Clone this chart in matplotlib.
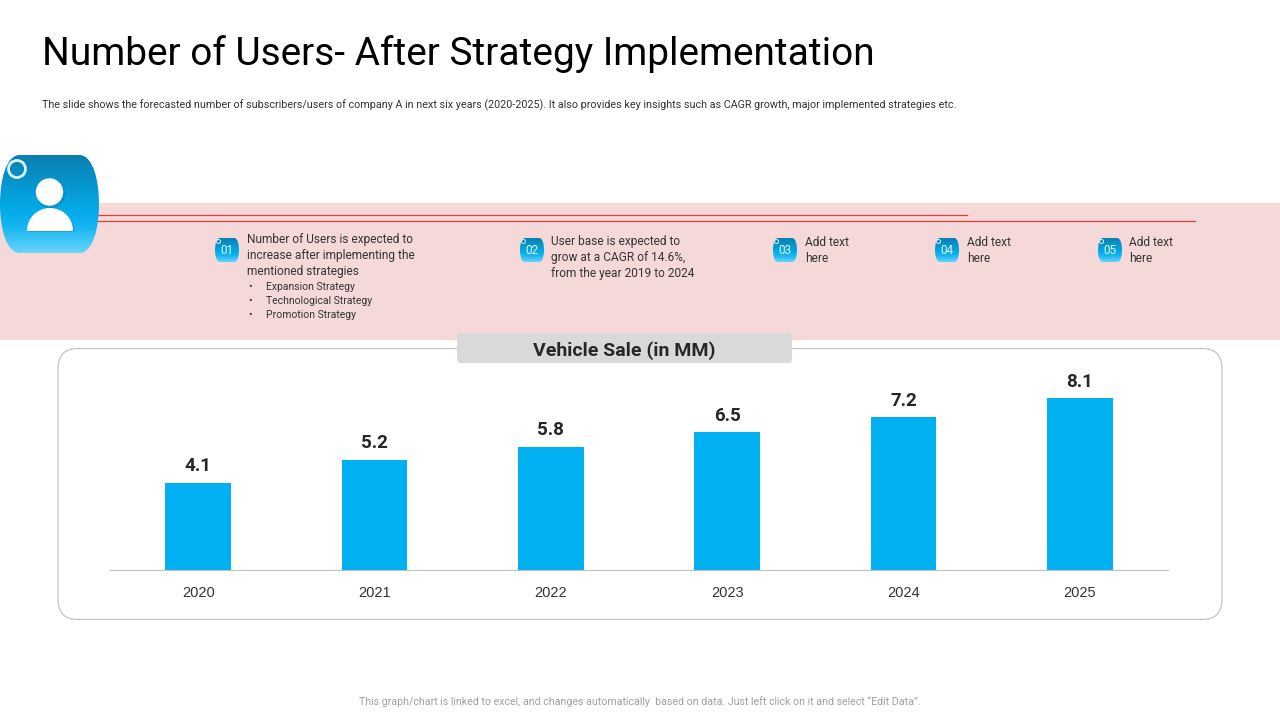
import numpy as np
import matplotlib
matplotlib.use('Agg')
import matplotlib.pyplot as plt
import matplotlib.patches as mpatches
from matplotlib.path import Path
from matplotlib.colors import LinearSegmentedColormap

years = ['2020', '2021', '2022', '2023', '2024', '2025']
users = [4.1, 5.2, 5.8, 6.5, 7.2, 8.1]

title = 'Number of Users- After Strategy Implementation'
subtitle = ('The slide shows the forecasted number of subscribers/users of company A in next six years '
            '(2020-2025). It also provides key insights such as CAGR growth, major implemented strategies etc.')
footer = 'This graph/chart is linked to excel, and changes automatically  based on data. Just left click on it and select \u201cEdit Data\u201d.'
chart_title = 'Vehicle Sale (in MM)'
notes = [
    ('01', 'Number of Users is expected to\nincrease after implementing the\nmentioned strategies'),
    ('02', 'User base is expected to\ngrow at a CAGR of 14.6%,\nfrom the year 2019 to 2024'),
    ('03', 'Add text\nhere'),
    ('04', 'Add text\nhere'),
    ('05', 'Add text\nhere'),
]
bullets = ['Expansion Strategy', 'Technological Strategy', 'Promotion Strategy']

plt.rcParams['font.family'] = ['Roboto', 'DejaVu Sans']

cmap = LinearSegmentedColormap.from_list('icon', [(0, '#0b7fb0'), (0.55, '#02aae8'),
                                                  (0.72, '#12b4f2'), (1, '#6ad4fb')])


def barrel(ax, x0, y0, x1, y1, zorder=3):
    # rounded barrel badge filled with a vertical gradient
    w = x1 - x0
    h = y1 - y0
    tl = x0 + w * 0.2
    tr = x1 - w * 0.2
    mid = y0 + h * 0.5
    verts = [(tl, y0), (tr, y0),
             (x1 - w * 0.06, y0), (x1, y0 + h * 0.26), (x1, mid),
             (x1, y1 - h * 0.26), (x1 - w * 0.06, y1), (tr, y1),
             (tl, y1),
             (x0 + w * 0.06, y1), (x0, y1 - h * 0.26), (x0, mid),
             (x0, y0 + h * 0.26), (x0 + w * 0.06, y0), (tl, y0),
             (tl, y0)]
    codes = [Path.MOVETO, Path.LINETO,
             Path.CURVE4, Path.CURVE4, Path.CURVE4,
             Path.CURVE4, Path.CURVE4, Path.CURVE4,
             Path.LINETO,
             Path.CURVE4, Path.CURVE4, Path.CURVE4,
             Path.CURVE4, Path.CURVE4, Path.CURVE4,
             Path.CLOSEPOLY]
    patch = mpatches.PathPatch(Path(verts, codes), fc='none', ec='none', zorder=zorder)
    ax.add_patch(patch)
    grad = np.linspace(0, 1, 256).reshape(-1, 1)
    im = ax.imshow(grad, cmap=cmap, extent=(x0, x1, y1, y0), aspect='auto', zorder=zorder)
    im.set_clip_path(patch)


def body(ax, cx, cy, rx, ry, color, alpha, zorder):
    # top half of an ellipse, used for the shoulders of the user icon
    e = mpatches.Ellipse((cx, cy), rx * 2, ry * 2, fc=color, ec='none', alpha=alpha, zorder=zorder)
    ax.add_patch(e)
    clip = mpatches.Rectangle((cx - rx - 1, cy - ry - 1), rx * 2 + 2, ry + 1, transform=ax.transData)
    e.set_clip_path(clip)


fig = plt.figure(figsize=(12.8, 7.2), dpi=100, facecolor='white')

# page layer in pixel coordinates
bg = fig.add_axes([0, 0, 1, 1])
bg.axis('off')

bg.add_patch(mpatches.Rectangle((0, 203), 1280, 137, fc='#f5d9d9', ec='none', zorder=1))
bg.plot([90, 967], [215, 215], color='#e53935', lw=0.9, zorder=2)
bg.plot([90, 1195], [220.5, 220.5], color='#e53935', lw=0.9, zorder=2)

bg.text(42, 54, title, fontsize=28, color='black', va='center', ha='left')
bg.text(42, 105, subtitle, fontsize=7.73, color='#333333', va='center', ha='left')
bg.text(640, 702, footer, fontsize=7.64, color='#a0a0a0', va='center', ha='center')

# large user badge
barrel(bg, 0, 155, 99, 253)
bg.add_patch(mpatches.Circle((17, 169), 8.5, fc='none', ec='#d8f3fd', lw=2, zorder=5))
bg.add_patch(mpatches.Circle((51, 194), 14.5, fc='#0a6f9c', ec='none', alpha=0.3, zorder=4))
bg.add_patch(mpatches.Circle((49.5, 192), 13.7, fc='white', ec='none', zorder=5))
body(bg, 51.5, 232, 23, 23, '#0a6f9c', 0.3, 4)
body(bg, 50, 230.5, 23, 22.5, 'white', 1, 5)

# small numbered badges and their text
badge_x = [215, 520, 773, 935, 1098]
text_x = [247, 551, 805, 967, 1129]
text_y = [240, 242, 243, 243, 243]
for (num, txt), bx, tx, ty in zip(notes, badge_x, text_x, text_y):
    barrel(bg, bx, 238, bx + 24, 262)
    bg.add_patch(mpatches.Circle((bx + 3.5, 241.5), 2, fc='none', ec='#d8f3fd', lw=0.7, zorder=5))
    bg.text(bx + 12, 250.5, num, fontsize=8.5, color='#e8f8ff', ha='center', va='center', zorder=6)
    for i, line in enumerate(txt.split('\n')):
        step = 16 if num in ('03', '04', '05') else 15.7
        bg.text(tx, ty + i * step, line, fontsize=8.55, color='#333333', ha='left', va='center', zorder=6)

for i, b in enumerate(bullets):
    y = 287 + i * 14
    bg.text(248, y, '\u2022', fontsize=7.5, color='#333333', ha='left', va='center', zorder=6)
    bg.text(266, y, b, fontsize=7.5, color='#333333', ha='left', va='center', zorder=6)

# chart frame and its heading
bg.add_patch(mpatches.FancyBboxPatch((58 + 20, 348.5 + 20), 1164 - 40, 271 - 40,
                                     boxstyle='round,pad=20,rounding_size=20',
                                     fc='white', ec='#bfbfbf', lw=0.8, zorder=2))
bg.add_patch(mpatches.FancyBboxPatch((461, 337), 327, 22, boxstyle='round,pad=4,rounding_size=4',
                                     fc='#d9d9d9', ec='none', zorder=3))
bg.text(624.5, 350.5, chart_title, fontsize=14, fontweight='bold', color='#262626',
        ha='center', va='center', zorder=4)
bg.set_xlim(0, 1280)
bg.set_ylim(720, 0)

# the bar chart itself, baseline at y=570, 21.2 px per unit
ax = fig.add_axes([110 / 1280, 1 - 570 / 720, 1058 / 1280, 212 / 720])
ax.patch.set_alpha(0)
x = np.arange(len(years))
bars = ax.bar(x, users, width=0.372, color='#00b0f0')
ax.set_xlim(-0.5, 5.5)
ax.set_ylim(0, 10)
ax.set_yticks([])
ax.set_xticks(x)
ax.set_xticklabels(years, fontsize=10.5, color='#333333', family='Liberation Sans')
ax.tick_params(axis='x', length=0, pad=11.5)
for s in ['top', 'left', 'right']:
    ax.spines[s].set_visible(False)
ax.spines['bottom'].set_color('#bfbfbf')
ax.spines['bottom'].set_linewidth(0.8)
for rect, v in zip(bars, users):
    ax.annotate('%.1f' % v, (rect.get_x() + rect.get_width() / 2, v), xytext=(0, 5.5),
                textcoords='offset points', ha='center', va='bottom',
                fontsize=13.5, fontweight='bold', color='#262626')

fig.savefig('out.png', dpi=100, facecolor='white')
